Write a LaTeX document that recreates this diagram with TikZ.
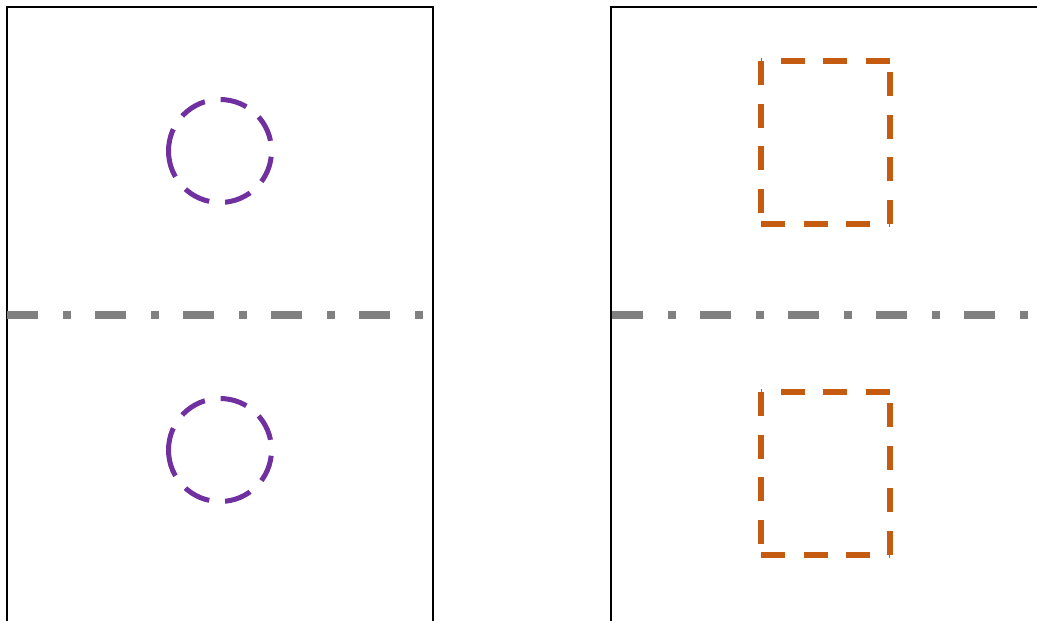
\documentclass[tikz,border=0pt]{standalone}
\usepackage{tikz}
\usetikzlibrary{calc}
\definecolor{cAxis}{RGB}{128,128,128}
\definecolor{cPurple}{RGB}{112,48,160}
\definecolor{cOrange}{RGB}{197,90,17}
\tikzset{
	panel/.style   ={draw=black, line width=2.2pt},
	axisline/.style={cAxis, line width=7.5pt, dash pattern=on 31pt off 25pt on 8pt off 24pt},
	hole/.style    ={cPurple, line width=5pt, dash pattern=on 27pt off 16pt},
	slot/.style    ={cOrange, line width=5.5pt, dash pattern=on 24pt off 18.7pt},
}
\begin{document}
\begin{tikzpicture}[x=1pt, y=-1pt]
	\useasboundingbox (0,0) rectangle (1037,621);
	\clip (0,0) rectangle (1037,621);
	% panels
	\coordinate (lpBot) at (7,640);
	\coordinate (lpTop) at (433,7);
	\coordinate (rpBot) at (611,640);
	\coordinate (rpTop) at (1050,7);
	\draw[panel] (lpBot) |- (lpTop) -- (433,640);
	\draw[panel] (rpBot) |- (rpTop);
	% centre lines
	\coordinate (axL1) at (7,315);
	\coordinate (axL2) at (433,315);
	\coordinate (axR1) at (612,315);
	\coordinate (axR2) at (1037,315);
	\draw[axisline] (axL1) -- (axL2);
	\draw[axisline] (axR1) -- (axR2);
	% holes
	\foreach \y in {151,450}
		\draw[hole] ($(220,\y)+(180:51.5)$) arc[start angle=180, end angle=-180, radius=51.5];
	% slots
	\foreach \t/\b in {61/224, 392/555}
		\draw[slot] (761,\t) -- (761,\b) (761,\b) -- (890,\b) (890,\b) -- (890,\t) (890,\t) -- (761,\t);
\end{tikzpicture}
\end{document}
